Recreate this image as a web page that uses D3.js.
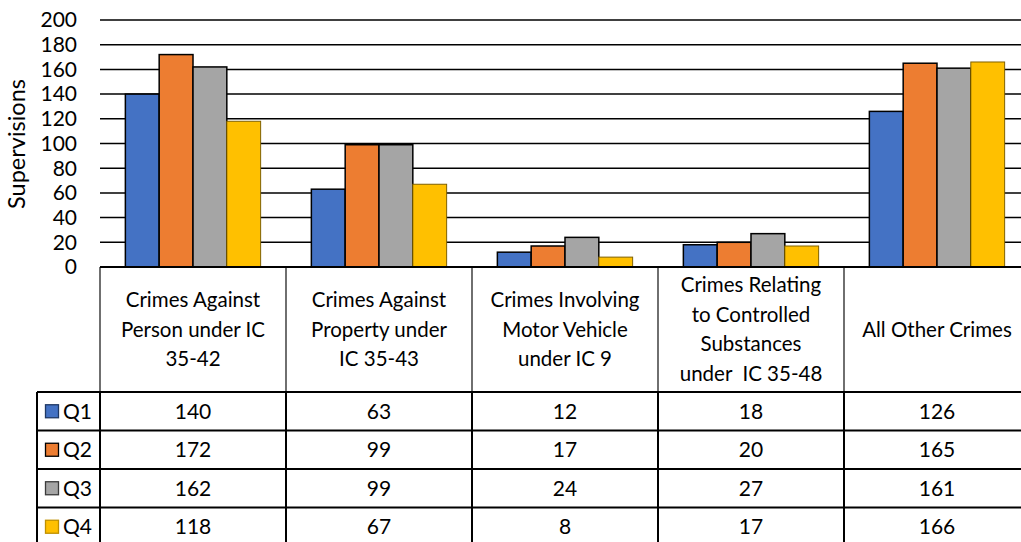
<!DOCTYPE html>
<html>
<head>
<meta charset="utf-8">
<script src="https://cdn.jsdelivr.net/npm/d3@7"></script>
<style>
  body { margin: 0; background: #fff; }
  text { font-family: Lato, "Noto Sans", sans-serif; fill: #000; }
</style>
</head>
<body>
<svg id="chart" width="1021" height="542"></svg>
<script>
// category labels (as wrapped in the data table header)
var categories = [
  ['Crimes Against', 'Person under IC', '35-42'],
  ['Crimes Against', 'Property under', 'IC 35-43'],
  ['Crimes Involving', 'Motor Vehicle', 'under IC 9'],
  ['Crimes Relating', 'to Controlled', 'Substances', 'under  IC 35-48'],
  ['All Other Crimes']
]
var seriesNames = ['Q1', 'Q2', 'Q3', 'Q4']
var q1 = [140, 63, 12, 18, 126]
var q2 = [172, 99, 17, 20, 165]
var q3 = [162, 99, 24, 27, 161]
var q4 = [118, 67, 8, 17, 166]
var yTicks = [0, 20, 40, 60, 80, 100, 120, 140, 160, 180, 200]

var seriesValues = [q1, q2, q3, q4]
var colors = ['#4472c4', '#ed7d31', '#a5a5a5', '#ffc000']
var outlines = ['#000', '#000', '#000', '#7f6000']
var keyOutlines = ['#1f3864', '#000', '#3a3a3a', '#bf9000']

var svg = d3.select('#chart')
var plotLeft = 100, plotRight = 1030, plotTop = 20, base = 267
var headerBottom = 392, rowH = 38.5, tableLeft = 37
var fs = 21

var catIdx = categories.map(function (d, i) { return i })
var x0 = d3.scaleBand().domain(catIdx).range([plotLeft, plotRight]).padding(0)
var x1 = d3.scaleBand().domain(seriesNames).range([0, x0.bandwidth()])
  .paddingInner(0).paddingOuter(0.75)
var y = d3.scaleLinear().domain([0, 200]).range([base, plotTop])

// gridlines
svg.append('g').selectAll('line').data(yTicks.slice(1)).join('line')
  .attr('x1', plotLeft).attr('x2', plotRight)
  .attr('y1', function (d) { return y(d) }).attr('y2', function (d) { return y(d) })
  .attr('stroke', '#000').attr('stroke-width', 1.5)

// y tick labels
svg.append('g').selectAll('text').data(yTicks).join('text')
  .attr('x', 77).attr('y', function (d) { return y(d) })
  .attr('dy', '0.35em').attr('text-anchor', 'end')
  .attr('font-size', fs)
  .text(function (d) { return d })

svg.append('text')
  .attr('transform', 'translate(17,144) rotate(-90)')
  .attr('text-anchor', 'middle').attr('dy', '0.35em')
  .attr('font-size', fs + 2.5)
  .text('Supervisions')

// bars
seriesNames.forEach(function (s, si) {
  svg.append('g').selectAll('rect').data(seriesValues[si]).join('rect')
    .attr('x', function (d, i) { return x0(i) + x1(s) })
    .attr('width', x1.bandwidth())
    .attr('y', function (d) { return y(d) })
    .attr('height', function (d) { return base - y(d) })
    .attr('fill', colors[si])
    .attr('stroke', outlines[si])
    .attr('stroke-width', si === 3 ? 1 : 1.5)
})

// data table
var table = svg.append('g')
var rowY = function (i) { return headerBottom + i * rowH }

// header verticals
table.selectAll('.hv').data(catIdx.concat([5])).join('line')
  .attr('class', 'hv')
  .attr('x1', function (d) { return plotLeft + d * x0.step() })
  .attr('x2', function (d) { return plotLeft + d * x0.step() })
  .attr('y1', base).attr('y2', headerBottom)
  .attr('stroke', '#222').attr('stroke-width', 1.3)

// body verticals
table.selectAll('.bv').data([tableLeft].concat(catIdx.map(function (i) { return x0(i) }))).join('line')
  .attr('class', 'bv')
  .attr('x1', function (d) { return d }).attr('x2', function (d) { return d })
  .attr('y1', headerBottom).attr('y2', 542)
  .attr('stroke', '#000').attr('stroke-width', 2)

// top of table (category axis line)
table.append('line')
  .attr('x1', plotLeft).attr('x2', plotRight).attr('y1', base).attr('y2', base)
  .attr('stroke', '#000').attr('stroke-width', 2)

// row lines
table.selectAll('.rl').data([0, 1, 2, 3, 4]).join('line')
  .attr('class', 'rl')
  .attr('x1', tableLeft).attr('x2', plotRight)
  .attr('y1', rowY).attr('y2', rowY)
  .attr('stroke', '#000').attr('stroke-width', 2)

// header labels
categories.forEach(function (lines, i) {
  var cx = x0(i) + x0.bandwidth() / 2
  var cy = (base + headerBottom) / 2
  var lh = 29.5
  var t = table.append('text')
    .attr('text-anchor', 'middle').attr('font-size', fs - 0.5)
  lines.forEach(function (ln, k) {
    t.append('tspan')
      .attr('x', cx)
      .attr('y', cy + (k - (lines.length - 1) / 2) * lh)
      .attr('dy', '0.35em')
      .style('white-space', 'pre')
      .text(ln)
  })
})

// rows: legend key + values
seriesNames.forEach(function (s, si) {
  var cy = rowY(si) + rowH / 2
  table.append('rect')
    .attr('x', 45.5).attr('y', cy - 6.5).attr('width', 13).attr('height', 13)
    .attr('fill', colors[si]).attr('stroke', keyOutlines[si]).attr('stroke-width', 1.3)
  table.append('text')
    .attr('x', 63).attr('y', cy).attr('dy', '0.35em')
    .attr('font-size', fs).text(s)
  table.append('g').selectAll('text').data(seriesValues[si]).join('text')
    .attr('x', function (d, i) { return x0(i) + x0.bandwidth() / 2 })
    .attr('y', cy).attr('dy', '0.35em')
    .attr('text-anchor', 'middle').attr('font-size', fs)
    .text(function (d) { return d })
})
</script>
</body>
</html>
